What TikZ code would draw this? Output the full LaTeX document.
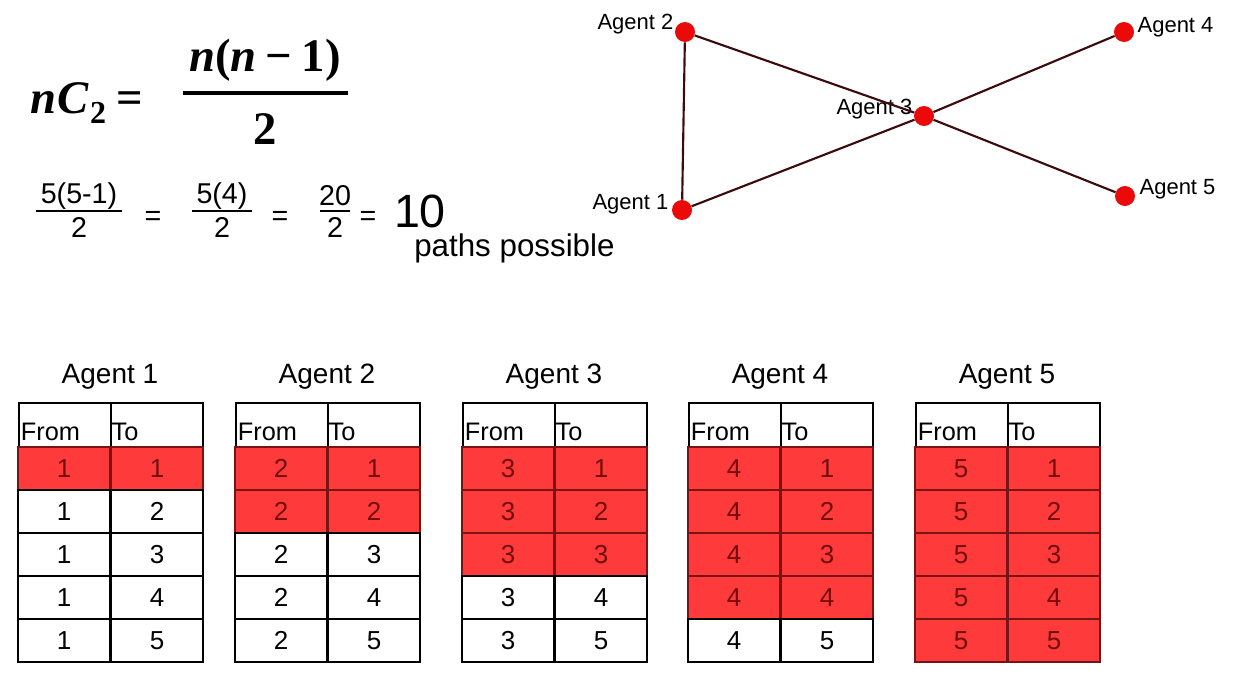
\documentclass[tikz,border=0pt]{standalone}
\usepackage{fontspec}
\setmainfont{Liberation Sans}
\newfontfamily\serifmath{Liberation Serif}
\definecolor{dotred}{RGB}{235,10,10}
\definecolor{edgecol}{RGB}{60,12,12}
\definecolor{cellred}{RGB}{255,58,58}
\definecolor{celldark}{RGB}{120,20,20}
\definecolor{celltext}{RGB}{115,12,12}
\begin{document}
\begin{tikzpicture}[x=0.75pt,y=-0.75pt,
  gdot/.style={circle,fill=dotred,draw=none,minimum size=15pt,inner sep=0},
  glabel/.style={font=\fontsize{16.5}{18}\selectfont,inner sep=1pt},
  gline/.style={draw=edgecol,line width=1.6pt},
  tcell/.style={draw=black,line width=1.3pt,minimum width=69pt,minimum height=32.25pt,inner sep=0,font=\fontsize{19.5}{21}\selectfont},
  hcell/.style={tcell,minimum height=33.75pt},
  ttl/.style={font=\fontsize{21}{24}\selectfont},
  mtxt/.style={font=\serifmath\bfseries\fontsize{35}{40}\selectfont,inner sep=0},
  atxt/.style={font=\fontsize{21.5}{24}\selectfont,inner sep=0},
  fbar/.style={line width=1.6pt}]
\useasboundingbox (0,0) rectangle (1244,683);
\fill[white] (0,0) rectangle (1244,683);
% graph
\node[glabel,anchor=east] (l2) at (675,24) {Agent 2};
\node[glabel,anchor=west] (l4) at (1136,27) {Agent 4};
\node[glabel,anchor=east] (l3) at (914,109) {Agent 3};
\node[glabel,anchor=east] (l1) at (670,204) {Agent 1};
\node[glabel,anchor=west] (l5) at (1138,189) {Agent 5};
\node[gdot] (a2) at (685,32) {};
\node[gdot] (a4) at (1124,32) {};
\node[gdot] (a3) at (924,116) {};
\node[gdot] (a1) at (682,210) {};
\node[gdot] (a5) at (1125,196) {};
\draw[gline] (a1) -- (a2);
\draw[gline] (a2) -- (a3);
\draw[gline] (a1) -- (a3);
\draw[gline] (a3) -- (a4);
\draw[gline] (a3) -- (a5);
% formula
\node[mtxt,anchor=base west] (ncr) at (30,113) {\itshape n\kern1pt C\kern1pt\raisebox{-0.22em}{\upshape\fontsize{24}{24}\selectfont 2}\upshape\kern8pt =};
\node[mtxt] (num) at (265,60) {\itshape n\upshape(\itshape n\upshape\kern7pt −\kern7pt 1)};
\draw[line width=2.6pt] (183,93) -- (348,93);
\node[mtxt] (den) at (265,129) {2};
\node[atxt] (f1n) at (79,196) {5(5-1)};
\draw[fbar] (36,211) -- (122,211);
\node[atxt] (f1d) at (79,227) {2};
\node[atxt] (e1) at (153,218) {=};
\node[atxt] (f2n) at (222,196) {5(4)};
\draw[fbar] (192,211) -- (252,211);
\node[atxt] (f2d) at (222,227) {2};
\node[atxt] (e2) at (280,218) {=};
\node[atxt] (f3n) at (335,196) {20};
\draw[fbar] (320,211) -- (350,211);
\node[atxt] (f3d) at (335,227) {2};
\node[atxt] (e3) at (368,218) {=};
\node[font=\fontsize{35}{40}\selectfont,inner sep=0] (ten) at (420,211) {10};
\node[font=\fontsize{23.5}{28}\selectfont,inner sep=0,anchor=base west] (paths) at (414,256) {paths possible};
% tables
\foreach \k/\x in {1/18,2/235,3/462,4/688,5/915} {
  \node[ttl] (t\k) at ({\x+92},377) {Agent \k};
  \node[hcell,anchor=north west] (h\k-a) at (\x,402) {};
  \node[hcell,anchor=north west] (h\k-b) at ({\x+92},402) {};
  \node[font=\fontsize{19}{20}\selectfont,inner sep=0,anchor=base west] (hf\k) at ([shift={(2pt,6pt)}]h\k-a.south west) {From};
  \node[font=\fontsize{19}{20}\selectfont,inner sep=0,anchor=base west] (ht\k) at ([shift={(1pt,6pt)}]h\k-b.south west) {To};
  \foreach \r in {1,...,5} {
    \ifnum\r>\k
      \def\fc{white}\def\dc{black}\def\tc{black}
    \else
      \def\fc{cellred}\def\dc{celldark}\def\tc{celltext}
    \fi
    \node[tcell,fill=\fc,draw=\dc,text=\tc] (c\k-\r-a) at ({\x+46},{447+43*(\r-0.5)}) {\k};
    \node[tcell,fill=\fc,draw=\dc,text=\tc] (c\k-\r-b) at ({\x+139},{447+43*(\r-0.5)}) {\r};
  }
}
\end{tikzpicture}
\end{document}
